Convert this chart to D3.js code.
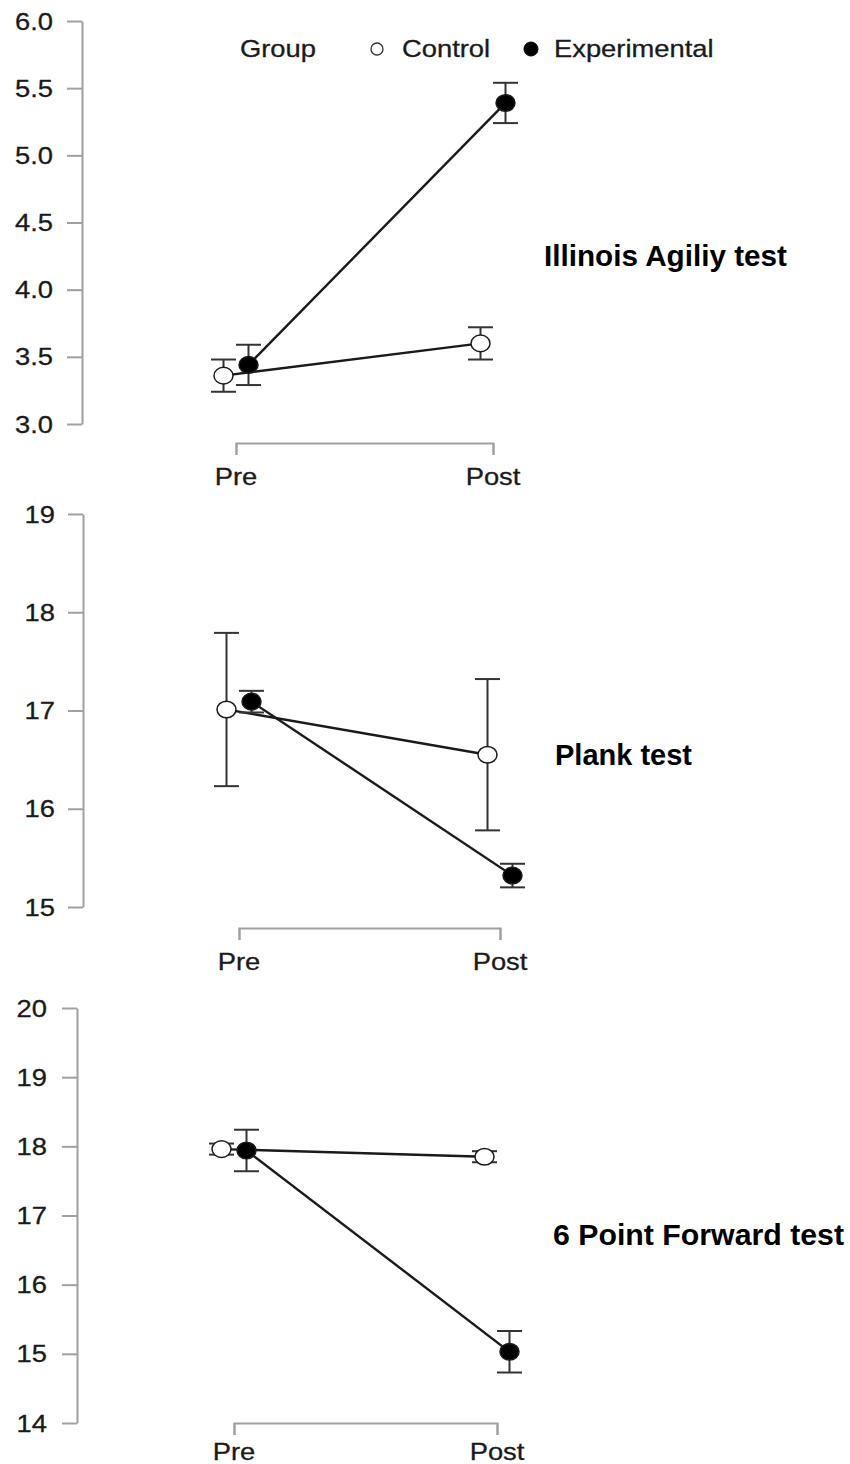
<!DOCTYPE html>
<html>
<head>
<meta charset="utf-8">
<script src="https://cdn.jsdelivr.net/npm/d3@7"></script>
<style>
  html, body { margin: 0; padding: 0; background: #fff; }
  svg { display: block; }
</style>
</head>
<body>
<script>
// ---------------- DATA ----------------
const times = ["Pre", "Post"];
const groups = ["Control", "Experimental"];
const testNames = ["Illinois Agiliy test", "Plank test", "6 Point Forward test"];

// Illinois Agility test
const agilityControl = [3.36, 3.60];
const agilityControlErr = [0.12, 0.12];
const agilityExperimental = [3.44, 5.39];
const agilityExperimentalErr = [0.15, 0.15];
const agilityTicks = [3.0, 3.5, 4.0, 4.5, 5.0, 5.5, 6.0];

// Plank test
const plankControl = [17.01, 16.55];
const plankControlErr = [0.78, 0.77];
const plankExperimental = [17.09, 15.32];
const plankExperimentalErr = [0.11, 0.12];
const plankTicks = [15, 16, 17, 18, 19];

// 6 Point Forward test
const forwardControl = [17.96, 17.85];
const forwardControlErr = [0.08, 0.08];
const forwardExperimental = [17.94, 15.03];
const forwardExperimentalErr = [0.30, 0.30];
const forwardTicks = [14, 15, 16, 17, 18, 19, 20];

// ---------------- LAYOUT ----------------
const W = 850, H = 1464;
const STRETCH = 1.14;          // horizontal stretch of the original R text
const FONT = "'Liberation Sans', Arial, sans-serif";

const panels = [
  { name: testNames[0], ctrl: agilityControl, ctrlErr: agilityControlErr,
    exp: agilityExperimental, expErr: agilityExperimentalErr, ticks: agilityTicks, fmt: d3.format(".1f"),
    yTop: 21, yBot: 424, axisX: 82, labelRight: 53, preX: 236, postX: 493,
    bracketY: 443, xLabelY: 485, titleX: 544, titleY: 266, titleW: 243 },
  { name: testNames[1], ctrl: plankControl, ctrlErr: plankControlErr,
    exp: plankExperimental, expErr: plankExperimentalErr, ticks: plankTicks, fmt: d3.format("d"),
    yTop: 514, yBot: 907, axisX: 83, labelRight: 55, preX: 239, postX: 500,
    bracketY: 928, xLabelY: 970, titleX: 555, titleY: 765, titleW: 137 },
  { name: testNames[2], ctrl: forwardControl, ctrlErr: forwardControlErr,
    exp: forwardExperimental, expErr: forwardExperimentalErr, ticks: forwardTicks, fmt: d3.format("d"),
    yTop: 1008, yBot: 1423, axisX: 77, labelRight: 47, preX: 234, postX: 497,
    bracketY: 1423, xLabelY: 1460, titleX: 553, titleY: 1245, titleW: 291 }
];

const svg = d3.select("body").append("svg")
  .attr("width", W).attr("height", H)
  .attr("font-family", FONT);

function stretchedText(g, x, y, txt, anchor, size) {
  return g.append("text")
    .attr("transform", `translate(${x},${y}) scale(${STRETCH},1)`)
    .attr("text-anchor", anchor)
    .attr("font-size", size)
    .attr("fill", "#1a1a1a")
    .attr("stroke", "#1a1a1a").attr("stroke-width", 0.3)
    .text(txt);
}

const DODGE = 12.5;
const CAP = 12.5;
const AXIS_COLOR = "#a0a0a0";

panels.forEach((p, pi) => {
  const g = svg.append("g");
  const dom = [p.ticks[0], p.ticks[p.ticks.length - 1]];
  const y = d3.scaleLinear().domain(dom).range([p.yBot, p.yTop]);
  const x = d3.scalePoint().domain(times).range([p.preX, p.postX]).padding(0);

  // ---- Y axis ----
  const yAxis = d3.axisLeft(y).tickValues(p.ticks).tickFormat(p.fmt)
    .tickSizeInner(15).tickSizeOuter(0);
  const ya = g.append("g").attr("transform", `translate(${p.axisX},0)`).call(yAxis);
  ya.select(".domain").attr("stroke", AXIS_COLOR).attr("stroke-width", 2);
  ya.selectAll(".tick line").attr("stroke", AXIS_COLOR).attr("stroke-width", 2);
  ya.selectAll(".tick text").remove();
  p.ticks.forEach(t => {
    stretchedText(g, p.labelRight, y(t), p.fmt(t), "end", 24).attr("dy", "0.36em");
  });

  // ---- X axis (bracket) ----
  const xAxis = d3.axisBottom(x).tickSizeInner(12).tickSizeOuter(12);
  const xa = g.append("g").attr("transform", `translate(0,${p.bracketY})`).call(xAxis);
  xa.select(".domain").attr("stroke", AXIS_COLOR).attr("stroke-width", 2);
  xa.selectAll(".tick line").attr("stroke", AXIS_COLOR).attr("stroke-width", 2);
  xa.selectAll(".tick text").remove();
  times.forEach(t => {
    stretchedText(g, x(t), p.xLabelY, t, "middle", 24);
  });

  // ---- series ----
  const series = [
    { key: groups[0], vals: p.ctrl, errs: p.ctrlErr, off: -DODGE, fill: "#fff" },
    { key: groups[1], vals: p.exp, errs: p.expErr, off: DODGE, fill: "#000" }
  ];
  const line = d3.line().x(d => d.x).y(d => d.y);

  series.forEach(s => {
    const pts = times.map((t, i) => ({ x: x(t) + s.off, y: y(s.vals[i]), lo: y(s.vals[i] - s.errs[i]), hi: y(s.vals[i] + s.errs[i]) }));
    s.pts = pts;
    g.append("path").datum(pts).attr("d", line)
      .attr("fill", "none").attr("stroke", "#1a1a1a").attr("stroke-width", 2.4);
  });

  series.forEach(s => {
    const eg = g.append("g").attr("stroke", "#333").attr("stroke-width", 2);
    s.pts.forEach(d => {
      eg.append("line").attr("x1", d.x).attr("x2", d.x).attr("y1", d.lo).attr("y2", d.hi);
      eg.append("line").attr("x1", d.x - CAP).attr("x2", d.x + CAP).attr("y1", d.lo).attr("y2", d.lo);
      eg.append("line").attr("x1", d.x - CAP).attr("x2", d.x + CAP).attr("y1", d.hi).attr("y2", d.hi);
    });
  });

  series.forEach(s => {
    g.selectAll(null).data(s.pts).enter().append("ellipse")
      .attr("cx", d => d.x).attr("cy", d => d.y)
      .attr("rx", 9.5).attr("ry", 8.3)
      .attr("fill", s.fill).attr("stroke", "#1a1a1a").attr("stroke-width", 1.5);
  });

  // ---- title ----
  g.append("text").attr("x", p.titleX).attr("y", p.titleY)
    .attr("font-size", 29).attr("font-weight", "bold").attr("fill", "#000")
    .attr("textLength", p.titleW).attr("lengthAdjust", "spacingAndGlyphs")
    .text(p.name);

  // ---- legend (first panel only) ----
  if (pi === 0) {
    const lg = svg.append("g");
    stretchedText(lg, 240, 57, "Group", "start", 24);
    lg.append("circle").attr("cx", 377).attr("cy", 49).attr("r", 6)
      .attr("fill", "#fff").attr("stroke", "#333").attr("stroke-width", 1.3);
    stretchedText(lg, 402, 57, groups[0], "start", 24);
    lg.append("circle").attr("cx", 531).attr("cy", 49).attr("r", 7)
      .attr("fill", "#000").attr("stroke", "#000").attr("stroke-width", 1);
    stretchedText(lg, 554, 57, groups[1], "start", 24);
  }
});
</script>
</body>
</html>
